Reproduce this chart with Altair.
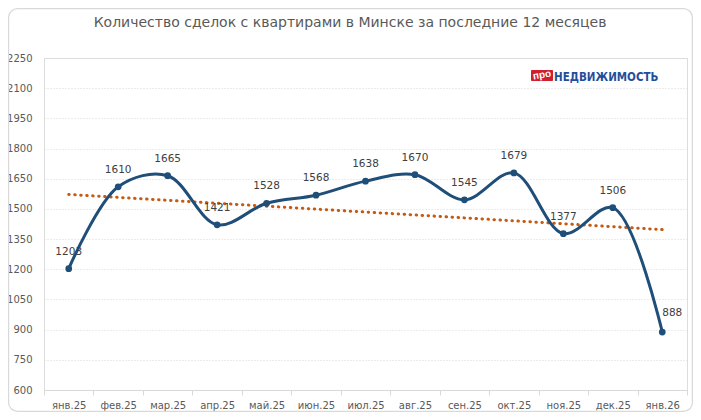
import json
import altair as alt
import pandas as pd

months = ["янв.25", "фев.25", "мар.25", "апр.25", "май.25", "июн.25", "июл.25",
          "авг.25", "сен.25", "окт.25", "ноя.25", "дек.25", "янв.26"]
deals = [1203, 1610, 1665, 1421, 1528, 1568, 1638, 1670, 1545, 1679, 1377, 1506, 888]
y_ticks = [600, 750, 900, 1050, 1200, 1350, 1500, 1650, 1800, 1950, 2100, 2250]
title_text = "Количество сделок с квартирами в Минске за последние 12 месяцев"

df = pd.DataFrame({"month": months, "value": deals, "idx": list(range(len(months)))})

W, H = 643, 332
FONT = "DejaVu Sans"
LINE = "#1F4E79"
TREND = "#C55A11"
LAST = len(months) - 1

x_enc = alt.X("month:N", sort=months, bandPosition=0.5,
              scale=alt.Scale(type="band", domain=months, paddingInner=0, paddingOuter=0),
              axis=alt.Axis(title=None, tickBand="extent", labelAngle=0, labelFont=FONT,
                            labelFontSize=10, labelColor="#595959", domainColor="#d9d9d9",
                            tickColor="#d9d9d9", tickSize=5, labelPadding=5, grid=False))
y_enc = alt.Y("value:Q",
              scale=alt.Scale(domain=[600, 2250], nice=False, zero=False),
              axis=alt.Axis(title=None, values=y_ticks, format="d", labelFont=FONT,
                            labelFontSize=10, labelColor="#595959", domain=False,
                            ticks=False, tickSize=0, labelPadding=12, grid=True,
                            gridColor="#d9d9d9", gridDash=[1, 2], gridWidth=1))

base = alt.Chart(df)

line = base.mark_line(interpolate="catmull-rom", color=LINE, strokeWidth=3).encode(
    x=x_enc, y=y_enc, order=alt.Order("idx:Q"))
points = base.mark_point(filled=True, color=LINE, size=45, opacity=1).encode(x=x_enc, y=y_enc)
labels = base.transform_filter(f"datum.idx < {LAST}").mark_text(
    dy=-17, font=FONT, fontSize=10.5, color="#404040").encode(
    x=x_enc, y=y_enc, text="value:Q")
label_last = base.transform_filter(f"datum.idx == {LAST}").mark_text(
    dy=-19, dx=10, font=FONT, fontSize=10.5, color="#404040").encode(
    x=x_enc, y=y_enc, text="value:Q")

trend = base.transform_regression("idx", "value").transform_calculate(
    month=json.dumps(months, ensure_ascii=False) + "[round(datum.idx)]"
).mark_line(color=TREND, strokeWidth=3, strokeDash=[0.5, 5.5], strokeCap="round").encode(
    x=x_enc, y=y_enc, order=alt.Order("idx:Q"))

one = alt.Data(values=[{"k": 1}])

title = alt.Chart(one).mark_text(font=FONT, fontSize=14, color="#595959", align="center",
                                 baseline="middle", text=title_text).encode(
    x=alt.value(306), y=alt.value(-35))

border = alt.Chart(one).mark_rect(fillOpacity=0, stroke="#d9d9d9", strokeWidth=1.2,
                                  cornerRadius=9).encode(
    x=alt.value(-35.4), x2=alt.value(648.4), y=alt.value(-49.4), y2=alt.value(353.4))

logo_box = alt.Chart(one).mark_rect(color="#D0202E", cornerRadius=1).encode(
    x=alt.value(487), x2=alt.value(509), y=alt.value(12), y2=alt.value(23))
logo_pro = alt.Chart(one).mark_text(font="Liberation Sans", fontSize=10, fontWeight="bold",
                                    color="white", align="center", baseline="middle",
                                    angle=350, text="про").encode(
    x=alt.value(498), y=alt.value(17))
logo_name = alt.Chart(one).mark_text(font="DejaVu Sans Condensed, Roboto Condensed, Roboto",
                                     fontSize=11.5, fontWeight="bold",
                                     color="#1F4E9A", align="left",
                                     baseline="alphabetic", text="НЕДВИЖИМОСТЬ").encode(
    x=alt.value(510), y=alt.value(23))

chart = alt.layer(border, trend, line, points, labels, label_last, title,
                  logo_box, logo_pro, logo_name).properties(
    width=W, height=H,
    autosize=alt.AutoSizeParams(type="none"),
    padding={"left": 36, "top": 50, "right": 6, "bottom": 22},
).configure_view(stroke=None).configure(background="white")

chart.save("out.html", embed_options={"renderer": "svg", "actions": False})
